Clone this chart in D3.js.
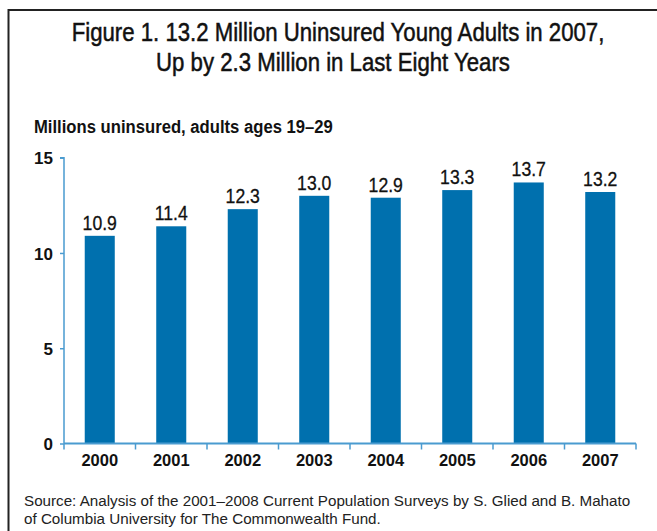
<!DOCTYPE html>
<html><head><meta charset="utf-8">
<script src="https://cdn.jsdelivr.net/npm/d3@7"></script>
<style>body{margin:0;background:#fff}svg{display:block}</style>
</head><body>
<svg id="c" width="657" height="531"></svg>
<script>
const years = ["2000","2001","2002","2003","2004","2005","2006","2007"];
const uninsured = [10.9, 11.4, 12.3, 13.0, 12.9, 13.3, 13.7, 13.2];
const yTicks = [0, 5, 10, 15];
const titleLines = ["Figure 1. 13.2 Million Uninsured Young Adults in 2007,", "Up by 2.3 Million in Last Eight Years"];
const subtitle = "Millions uninsured, adults ages 19\u201329";
const sourceLines = ["Source: Analysis of the 2001\u20132008 Current Population Surveys by S. Glied and B. Mahato", "of Columbia University for The Commonwealth Fund."];

const svg = d3.select("#c");
const barColor = "#0070ae", axisColor = "#4a9bd0";
const sans = "'Liberation Sans', Arial, sans-serif";

function squeeze(sel, ratio){
  sel.each(function(){
    const w = this.getComputedTextLength();
    d3.select(this).attr("textLength", w*ratio).attr("lengthAdjust","spacingAndGlyphs");
  });
}

// frame
svg.append("path").attr("d","M8.5,700 V10 H700").attr("fill","none").attr("stroke","#222").attr("stroke-width",2);

// title (condensed via horizontal scale)
const titleX = [338, 333];
svg.append("g").selectAll("text").data(titleLines).join("text")
  .attr("transform", (d,i)=>`translate(${titleX[i]},${41 + i*30}) scale(0.87,1)`)
  .attr("text-anchor","middle").attr("font-family", sans)
  .attr("font-size", 25.5).attr("fill","#111").attr("stroke","#111").attr("stroke-width",0.5).text(d=>d);

const st = svg.append("text").attr("x",34).attr("y",133).attr("font-family",sans)
  .attr("font-weight","bold").attr("font-size",18).attr("fill","#111").text(subtitle);
squeeze(st, 0.925);

const m = {left:64, right:636, top:157.7, bottom:443.5};
const x = d3.scaleBand().domain(years).range([m.left, m.right]).paddingInner(0.58).paddingOuter(0.29);
const y = d3.scaleLinear().domain([0,15]).range([m.bottom, m.top]);

svg.append("g").selectAll("rect").data(years).join("rect")
  .attr("x", d=>x(d)).attr("width", x.bandwidth())
  .attr("y", (d,i)=>y(uninsured[i])).attr("height",(d,i)=>y(0)-y(uninsured[i]))
  .attr("fill", barColor);

const vl = svg.append("g").selectAll("text").data(years).join("text")
  .attr("x", d=>x(d)+x.bandwidth()/2).attr("y",(d,i)=>y(uninsured[i])-6)
  .attr("text-anchor","middle").attr("font-family",sans).attr("font-size",20).attr("fill","#111")
  .attr("stroke","#111").attr("stroke-width",0.3)
  .text((d,i)=>uninsured[i].toFixed(1));
squeeze(vl, 0.88);

// y axis
const ya = svg.append("g").attr("transform",`translate(${m.left},0)`)
  .call(d3.axisLeft(y).tickValues(yTicks).tickSize(4).tickPadding(7));
ya.select(".domain").attr("stroke",axisColor).attr("stroke-width",1.5).attr("d",`M-4,${y(15)}H0V${y(0)}`);
ya.selectAll(".tick line").attr("stroke",axisColor).attr("stroke-width",1.5);
ya.selectAll(".tick text").attr("font-family",sans).attr("font-weight","bold")
  .attr("font-size",17).attr("fill","#111").attr("dy","0.36em");

// x axis: ticks at band boundaries
const bounds = years.map(d=>x(d)-x.step()*x.paddingInner()/2).concat([m.right]);
const xg = svg.append("g");
xg.append("line").attr("x1",m.left).attr("x2",m.right).attr("y1",y(0)).attr("y2",y(0)).attr("stroke",axisColor).attr("stroke-width",2);
xg.selectAll(".xt").data(bounds).join("line").attr("x1",d=>d).attr("x2",d=>d).attr("y1",y(0)).attr("y2",y(0)+6)
  .attr("stroke",axisColor).attr("stroke-width",1.5);
xg.selectAll("text").data(years).join("text")
  .attr("x", d=>x(d)+x.bandwidth()/2).attr("y", 466).attr("text-anchor","middle")
  .attr("font-family",sans).attr("font-weight","bold").attr("font-size",16.5).attr("fill","#111")
  .text(d=>d);

svg.append("g").selectAll("text").data(sourceLines).join("text")
  .attr("x",24).attr("y",(d,i)=>506+i*17.5)
  .attr("font-family",sans).attr("font-size",15.2).attr("fill","#222").text(d=>d);
</script>
</body></html>
